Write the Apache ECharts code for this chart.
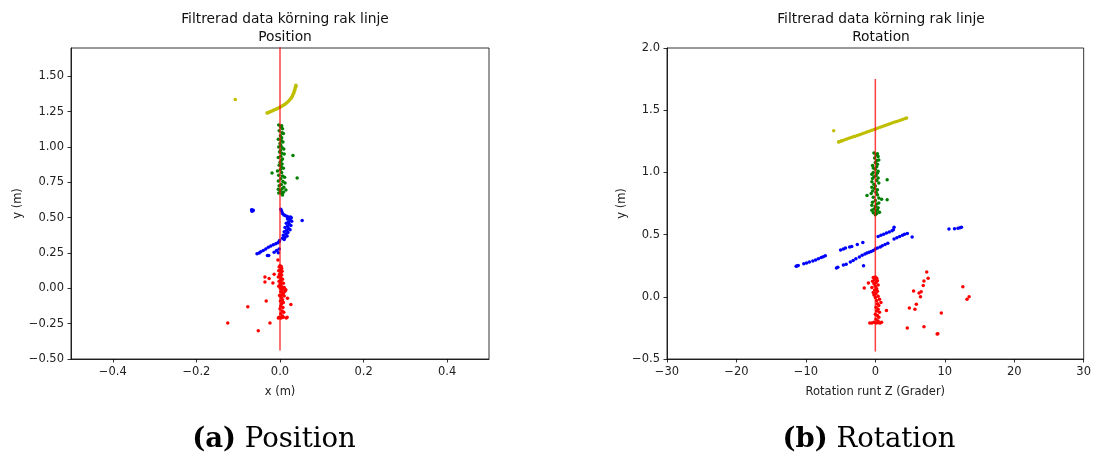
<!DOCTYPE html>
<html>
<head>
<meta charset="utf-8">
<title>Filtrerad data körning rak linje</title>
<script src="https://cdn.jsdelivr.net/npm/echarts@6/dist/echarts.min.js"></script>
<style>
  html, body { margin: 0; padding: 0; background: #fff; }
  #chart { width: 1094px; height: 455px; }
</style>
</head>
<body>
<div id="chart"></div>
<script>
// ---- Position plot: [x (m), y (m)] ----
const posYellow = [
  [-0.107,1.335],
  [-0.031,1.240],[-0.029,1.242],[-0.027,1.244],[-0.025,1.247],[-0.022,1.251],[-0.019,1.255],[-0.016,1.259],
  [-0.013,1.263],[-0.010,1.267],[-0.007,1.271],[-0.004,1.275],[-0.001,1.279],[0.002,1.284],[0.005,1.289],
  [0.008,1.295],[0.011,1.301],[0.014,1.308],[0.017,1.315],[0.020,1.323],[0.023,1.332],[0.026,1.342],
  [0.028,1.352],[0.030,1.362],[0.031,1.372],[0.033,1.382],[0.034,1.392],[0.035,1.402],[0.036,1.412],
  [0.037,1.422],[0.038,1.430],[0.038,1.436]
];
const posGreen = [
  [-0.003,1.155],[0.004,1.150],[0.002,1.140],[0.006,1.128],[-0.002,1.115],[0.005,1.100],[0.008,1.095],
  [0.001,1.080],[0.004,1.065],[-0.004,1.055],[0.003,1.045],[0.007,1.035],[0.000,1.025],[0.002,1.010],
  [-0.003,1.000],[0.005,0.995],[0.009,0.985],[0.001,0.975],[-0.001,0.965],[0.004,0.955],[0.010,0.950],
  [0.031,0.940],[0.002,0.935],[-0.004,0.925],[0.006,0.915],[0.003,0.905],[0.000,0.890],[0.005,0.880],
  [-0.002,0.870],[0.003,0.860],[0.008,0.850],[0.001,0.840],[-0.006,0.830],[-0.019,0.815],[0.004,0.820],
  [-0.003,0.800],[0.006,0.795],[0.011,0.785],[0.041,0.780],[0.002,0.775],[-0.004,0.760],[0.007,0.755],
  [0.012,0.745],[0.003,0.735],[-0.002,0.725],[0.009,0.715],[0.005,0.705],[-0.004,0.700],[0.014,0.695],
  [0.001,0.690],[0.008,0.680],[-0.003,0.675],[0.004,0.670],[0.006,0.660]
];
const posBlue = [
  [-0.068,0.556],[-0.066,0.552],[-0.065,0.548],[-0.067,0.545],[-0.064,0.553],
  [0.002,0.560],[0.004,0.545],[0.006,0.530],[0.009,0.520],[0.012,0.515],[0.016,0.510],[0.020,0.505],
  [0.025,0.505],[0.027,0.500],[0.022,0.495],[0.018,0.490],[0.024,0.485],[0.028,0.475],[0.020,0.470],
  [0.015,0.460],[0.022,0.455],[0.026,0.445],[0.018,0.440],[0.012,0.430],[0.020,0.425],[0.024,0.415],
  [0.016,0.410],[0.010,0.400],[0.019,0.395],[0.014,0.385],[0.008,0.375],[0.017,0.370],[0.012,0.360],
  [0.006,0.355],[0.010,0.345],
  [0.053,0.480],
  [-0.055,0.245],[-0.050,0.250],[-0.046,0.258],[-0.040,0.268],[-0.034,0.278],[-0.028,0.290],[-0.022,0.300],
  [-0.016,0.308],[-0.010,0.315],[-0.005,0.322],[-0.002,0.330],[-0.001,0.338],
  [-0.030,0.232],[-0.027,0.232],[-0.014,0.256],[-0.004,0.252],[-0.002,0.278],[-0.008,0.268]
];
const posRed = [
  [0.000,0.160],[-0.005,0.200],[0.003,0.155],[-0.002,0.150],[0.004,0.140],[0.001,0.130],[-0.003,0.125],
  [0.005,0.120],[0.002,0.110],[-0.001,0.100],[0.004,0.095],[0.000,0.085],[-0.004,0.080],[0.003,0.070],
  [0.006,0.065],[0.001,0.055],[-0.002,0.050],[0.004,0.040],[0.008,0.035],[0.000,0.030],[0.002,0.020],
  [-0.003,0.015],[0.005,0.010],[0.010,0.005],[0.001,0.000],[0.007,-0.005],[0.004,-0.015],[0.012,-0.020],
  [0.002,-0.025],[0.008,-0.035],[0.005,-0.045],[-0.001,-0.050],[0.010,-0.055],[0.003,-0.065],[0.006,-0.080],
  [0.001,-0.090],[0.008,-0.100],[0.004,-0.110],[0.002,-0.125],[0.007,-0.135],[0.000,-0.145],[0.005,-0.160],
  [0.009,-0.170],[0.002,-0.180],[0.006,-0.195],[-0.002,-0.205],[0.001,-0.210],[0.004,-0.208],[0.008,-0.205],
  [0.015,-0.210],[0.017,-0.205],[-0.004,-0.210],
  [-0.125,-0.245],[-0.052,-0.300],[-0.077,-0.130],[-0.024,-0.245],[0.026,-0.115],[-0.033,-0.090],
  [-0.036,0.080],[-0.036,0.044],[-0.026,0.070],[-0.017,0.037],[-0.014,0.100],[0.018,-0.070],[0.014,-0.010]
];

// ---- Rotation plot: [rotation around Z (deg), y (m)] ----
const rotYellow = [
  [-6.0,1.335],
  [-5.3,1.244],[-5.2,1.246],[-5.0,1.250],[-4.9,1.252],[-4.7,1.256],[-4.4,1.262],[-4.1,1.268],[-3.8,1.274],
  [-3.5,1.280],[-3.2,1.286],[-2.9,1.291],[-2.6,1.297],[-2.3,1.303],[-2.0,1.309],[-1.7,1.315],[-1.4,1.321],
  [-1.1,1.327],[-0.8,1.333],[-0.5,1.339],[-0.2,1.345],[0.1,1.351],[0.4,1.357],[0.7,1.363],[1.0,1.369],
  [1.3,1.375],[1.6,1.381],[1.9,1.387],[2.2,1.393],[2.5,1.399],[2.8,1.405],[3.1,1.410],[3.4,1.416],
  [3.7,1.422],[4.0,1.428],[4.3,1.434],[4.5,1.438]
];
const rotGreen = [
  [-0.2,1.155],[0.3,1.150],[0.1,1.140],[0.4,1.128],[-0.1,1.115],[0.5,1.100],[0.2,1.095],
  [0.0,1.080],[0.3,1.065],[-0.4,1.055],[0.2,1.045],[-0.3,1.035],[0.0,1.025],[0.4,1.010],
  [-0.3,1.000],[0.3,0.995],[-0.5,0.985],[0.1,0.975],[-0.2,0.965],[0.4,0.955],[-0.4,0.950],
  [1.7,0.940],[0.2,0.935],[-0.5,0.925],[0.5,0.915],[-0.2,0.905],[0.0,0.890],[-0.5,0.880],
  [-0.1,0.870],[0.3,0.860],[-0.4,0.850],[0.1,0.840],[-0.6,0.830],[-1.2,0.815],[0.3,0.820],
  [-0.3,0.800],[0.5,0.795],[0.9,0.785],[1.7,0.780],[0.0,0.775],[-0.4,0.760],[0.5,0.755],
  [0.2,0.745],[-0.5,0.735],[0.0,0.725],[0.4,0.715],[-0.2,0.705],[0.3,0.700],[-0.5,0.695],
  [0.1,0.690],[0.6,0.680],[-0.3,0.675],[0.2,0.670],[0.0,0.660]
];
const rotBlue = [
  [-11.4,0.245],[-11.3,0.248],[-11.1,0.252],[-10.3,0.265],[-9.9,0.272],[-9.5,0.280],[-9.0,0.288],
  [-8.6,0.296],[-8.2,0.305],[-7.8,0.315],[-7.5,0.322],[-7.2,0.330],
  [-5.6,0.232],[-5.4,0.238],[-4.6,0.255],[-4.2,0.262],[-3.6,0.280],[-3.2,0.292],[-2.8,0.305],[-2.3,0.320],
  [-1.9,0.335],[-1.5,0.345],[-1.2,0.352],[-0.9,0.358],[-0.6,0.365],[-0.3,0.372],[0.0,0.385],[0.3,0.392],
  [0.7,0.400],[1.0,0.410],[1.4,0.420],[1.8,0.430],
  [2.7,0.465],[3.1,0.475],[3.5,0.485],[3.9,0.495],[4.2,0.502],[4.6,0.508],[5.3,0.480],
  [0.4,0.485],[0.8,0.495],[1.2,0.503],[1.6,0.512],[2.0,0.520],[2.4,0.530],[2.6,0.538],[2.7,0.560],
  [-5.0,0.376],[-4.6,0.385],[-4.3,0.392],[-3.7,0.400],[-3.4,0.405],[-2.6,0.420],[-1.8,0.436],
  [-1.7,0.250],
  [10.6,0.545],[11.4,0.548],[11.9,0.552],[12.2,0.556],[12.4,0.560]
];
const rotRed = [
  [0.0,0.160],[-0.3,0.155],[0.2,0.150],[-0.1,0.140],[0.3,0.130],[-0.4,0.125],[0.1,0.115],
  [-0.2,0.105],[0.4,0.095],[0.0,0.085],[-0.5,0.075],[0.2,0.065],[-0.1,0.055],[0.3,0.045],
  [-0.3,0.035],[0.1,0.025],[-0.2,0.015],[0.4,0.005],[0.0,-0.005],[0.6,-0.020],[0.2,-0.030],
  [0.8,-0.045],[0.3,-0.055],[0.5,-0.070],[0.1,-0.085],[0.4,-0.100],[0.2,-0.115],[0.6,-0.125],
  [0.0,-0.140],[0.3,-0.150],[0.5,-0.165],[0.1,-0.180],[0.4,-0.195],
  [-0.8,-0.210],[-0.5,-0.210],[-0.2,-0.205],[0.1,-0.210],[0.4,-0.208],[0.7,-0.210],[0.9,-0.205],
  [-1.6,0.070],[-1.0,0.110],[1.6,-0.110],
  [7.4,0.200],[7.6,0.150],[7.0,0.127],[6.9,0.090],[6.6,0.040],[6.3,0.030],[6.5,0.000],[5.5,0.046],
  [5.9,-0.060],[5.7,-0.100],[4.9,-0.090],[4.6,-0.250],[7.0,-0.240],[8.9,-0.300],[9.0,-0.298],
  [9.5,-0.130],[12.6,0.080],[13.5,0.000],[13.2,-0.020]
];

// reference line (x = 0)
const refLine = [[0,-0.44],[0,1.75]];

const posXTicks = [-0.4,-0.2,0,0.2,0.4];
const posYTicks = [-0.5,-0.25,0,0.25,0.5,0.75,1,1.25,1.5];

const FONT = 'DejaVu Sans';
const SERIF = 'DejaVu Serif';
const minus = s => String(s).replace('-', '\u2212');

const COL = { r: '#ff0000', g: '#008000', b: '#0000ff', y: '#bfbf00' };

function scatter(data, color, idx) {
  return {
    type: 'scatter', xAxisIndex: idx, yAxisIndex: idx, data: data,
    symbolSize: 3.5, itemStyle: { color: color, opacity: 1 },
    silent: true, animation: false
  };
}
function vline(idx) {
  return {
    type: 'line', xAxisIndex: idx, yAxisIndex: idx, data: refLine,
    showSymbol: false, clip: true, z: 5,
    lineStyle: { color: '#ff0000', width: 1.5, opacity: 0.75 },
    silent: true, animation: false
  };
}

const axisCommon = {
  axisLine: { show: true, onZero: false, lineStyle: { color: '#000', width: 0.8 } },
  axisTick: { show: true, length: 3.5, lineStyle: { color: '#000', width: 0.8 } },
  axisLabel: { color: '#222', fontSize: 11.5, fontFamily: FONT, margin: 7 },
  splitLine: { show: false },
  nameTextStyle: { color: '#222', fontSize: 11.5, fontFamily: FONT },
  nameLocation: 'middle'
};

const titleStyle = { fontSize: 13.8, fontWeight: 'normal', color: '#111', fontFamily: FONT, lineHeight: 18 };
const captionStyle = {
  fontSize: 27.5, fontWeight: 'normal', color: '#000', fontFamily: SERIF,
  rich: { b: { fontSize: 27.5, fontWeight: 'bold', fontFamily: SERIF, color: '#000' } }
};

const option = {
  backgroundColor: '#fff',
  animation: false,
  title: [
    { text: 'Filtrerad data körning rak linje\nPosition', left: 280, top: 5, textAlign: 'center', textStyle: titleStyle },
    { text: 'Filtrerad data körning rak linje\nRotation', left: 876, top: 5, textAlign: 'center', textStyle: titleStyle },
    { text: '{b|(a)} Position', left: 269, top: 421, textAlign: 'center', textStyle: captionStyle },
    { text: '{b|(b)} Rotation', left: 864, top: 421, textAlign: 'center', textStyle: captionStyle }
  ],
  grid: [
    { left: 71, top: 48, width: 418, height: 311, show: true, borderColor: '#000', borderWidth: 0.8, backgroundColor: 'transparent' },
    { left: 667, top: 48, width: 418, height: 311, show: true, borderColor: '#000', borderWidth: 0.8, backgroundColor: 'transparent' }
  ],
  xAxis: [
    Object.assign({}, axisCommon, {
      gridIndex: 0, type: 'value', min: -0.5, max: 0.5, name: 'x (m)', nameGap: 27,
      axisTick: Object.assign({}, axisCommon.axisTick, { customValues: posXTicks }),
      axisLabel: Object.assign({}, axisCommon.axisLabel, { customValues: posXTicks, formatter: v => minus(v.toFixed(1)) })
    }),
    Object.assign({}, axisCommon, {
      gridIndex: 1, type: 'value', min: -30, max: 30, interval: 10, name: 'Rotation runt Z (Grader)', nameGap: 27,
      axisLabel: Object.assign({}, axisCommon.axisLabel, { formatter: v => minus(Math.round(v)) })
    })
  ],
  yAxis: [
    Object.assign({}, axisCommon, {
      gridIndex: 0, type: 'value', min: -0.5, max: 1.7, name: 'y (m)', nameGap: 47,
      axisTick: Object.assign({}, axisCommon.axisTick, { customValues: posYTicks }),
      axisLabel: Object.assign({}, axisCommon.axisLabel, { customValues: posYTicks, formatter: v => minus(v.toFixed(2)) })
    }),
    Object.assign({}, axisCommon, {
      gridIndex: 1, type: 'value', min: -0.5, max: 2.0, interval: 0.5, name: 'y (m)', nameGap: 38,
      axisLabel: Object.assign({}, axisCommon.axisLabel, { formatter: v => minus(v.toFixed(1)) })
    })
  ],
  series: [
    scatter(posYellow, COL.y, 0), scatter(posGreen, COL.g, 0), scatter(posBlue, COL.b, 0), scatter(posRed, COL.r, 0),
    vline(0),
    scatter(rotYellow, COL.y, 1), scatter(rotGreen, COL.g, 1), scatter(rotBlue, COL.b, 1), scatter(rotRed, COL.r, 1),
    vline(1)
  ]
};

const chart = echarts.init(document.getElementById('chart'));
chart.setOption(option);
</script>
</body>
</html>
